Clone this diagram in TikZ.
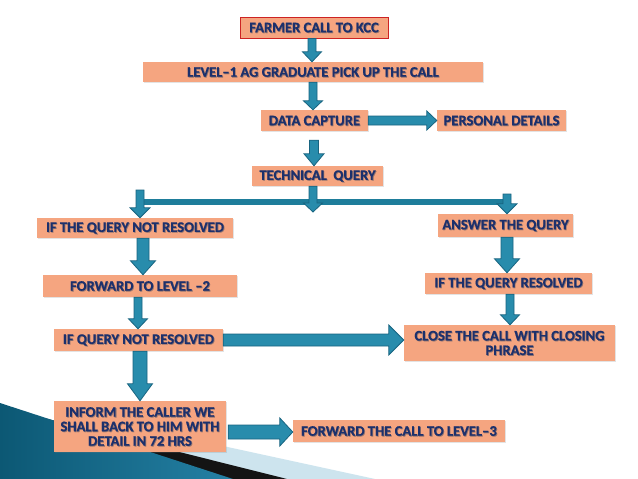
\documentclass[tikz,border=0pt]{standalone}
\usepackage{fontspec}
\setmainfont{Carlito}[BoldFeatures={FakeBold=0.4}]
\usetikzlibrary{calc,shadows}
\definecolor{boxfill}{RGB}{245,165,128}
\definecolor{txt}{RGB}{28,48,108}
\definecolor{tshadow}{RGB}{150,118,112}
\definecolor{arfill}{RGB}{40,140,172}
\definecolor{arline}{RGB}{24,100,128}
\definecolor{hline}{RGB}{30,125,155}
\definecolor{redb}{RGB}{205,35,35}
\definecolor{paleblue}{RGB}{205,228,238}
\definecolor{bgdark}{RGB}{12,88,116}
\definecolor{bgmid}{RGB}{64,166,200}
\definecolor{bgright}{RGB}{36,128,164}
\newcommand{\tsh}[1]{\leavevmode\rlap{\kern0.8pt\raisebox{-0.8pt}[0pt][0pt]{\color{tshadow}#1}}#1}
\begin{document}
\begin{tikzpicture}[x=1pt,y=-1pt,
  box/.style={rectangle, fill=boxfill, inner sep=0pt, align=center,
    font=\fontsize{14.6}{14.5}\selectfont\bfseries, text=txt,
    drop shadow={shadow xshift=1pt,shadow yshift=-1.2pt,opacity=0.22}},
  ar/.style={fill=arfill, draw=arline, line width=0.8pt, line join=miter},
  barrow/.style n args={3}{to path={let \p1=(\tikztostart),\p2=(\tikztotarget),
      \n1={atan2(\y2-\y1,\x2-\x1)} in
      ($(\p1)+(\n1+90:#1)$) -- ($(\p2)+(\n1+180:#3)+(\n1+90:#1)$)
      -- ($(\p2)+(\n1+180:#3)+(\n1+90:#2)$) -- (\p2)
      -- ($(\p2)+(\n1+180:#3)+(\n1-90:#2)$) -- ($(\p2)+(\n1+180:#3)+(\n1-90:#1)$)
      -- ($(\p1)+(\n1-90:#1)$) -- cycle}}
]
\useasboundingbox (0,0) rectangle (638,479);
\fill[white] (0,0) rectangle (638,479);
% background decoration
\fill[paleblue] (140,428) -- (375,479) -- (140,479) -- cycle;
\fill[black!92] (0,407) -- (287,479) -- (0,479) -- cycle;
\shade[left color=bgdark, middle color=bgmid, right color=bgright]
  (0,403) -- (233,479) -- (0,479) -- cycle;

% boxes
\node[box, draw=redb, line width=1pt, minimum width=148pt, minimum height=21pt] (farmer) at (314,27.5) {\tsh{FARMER CALL TO KCC}};
\node[box, minimum width=340pt, minimum height=20pt] (level1) at (313,72) {\tsh{LEVEL–1 AG GRADUATE PICK UP THE CALL}};
\node[box, minimum width=107pt, minimum height=21pt] (data) at (314.5,120.5) {\tsh{DATA CAPTURE}};
\node[box, minimum width=129pt, minimum height=21pt] (personal) at (501.5,120.5) {\tsh{PERSONAL DETAILS}};
\node[box, minimum width=131pt, minimum height=20pt] (tech) at (317.5,176) {\tsh{TECHNICAL~~QUERY}};
\node[box, minimum width=196pt, minimum height=20pt] (notres) at (135,228) {\tsh{IF THE QUERY NOT RESOLVED}};
\node[box, minimum width=194pt, minimum height=22pt] (fwd2) at (140,286) {\tsh{FORWARD TO LEVEL –2}};
\node[box, minimum width=135pt, minimum height=23pt] (answer) at (505.5,225.5) {\tsh{ANSWER THE QUERY}};
\node[box, minimum width=167pt, minimum height=21pt] (resolved) at (508.5,283.5) {\tsh{IF THE QUERY RESOLVED}};
\node[box, minimum width=169pt, minimum height=22pt] (qnot) at (138.5,340) {\tsh{IF QUERY NOT RESOLVED}};
\node[box, minimum width=211pt, minimum height=36pt] (close) at (509.5,343) {\tsh{CLOSE THE CALL WITH CLOSING}\\\tsh{PHRASE}};
\node[box, minimum width=172pt, minimum height=51pt] (inform) at (140,426.5) {\tsh{INFORM THE CALLER WE}\\\tsh{SHALL BACK TO HIM WITH}\\\tsh{DETAIL IN 72 HRS}};
\node[box, minimum width=212pt, minimum height=22pt] (fwd3) at (399,431) {\tsh{FORWARD THE CALL TO LEVEL–3}};

% coordinates
\coordinate (tqend) at (313,212);
\coordinate (hl) at (142,202);
\coordinate (hr) at (505,202);
\coordinate (lt) at (140,190);
\coordinate (rt) at (507,194);

% connectors
\draw[ar] ([xshift=-2pt]farmer.south) to[barrow={4pt}{9.5pt}{10pt}] ([xshift=-1pt]level1.north);
\draw[ar] (level1.south) to[barrow={4pt}{9.5pt}{9pt}] ([xshift=-1.5pt]data.north);
\draw[ar] ([xshift=-0.5pt,yshift=-9pt]data.south) to[barrow={4.5pt}{10pt}{12pt}] ([xshift=-3.5pt]tech.north);
\draw[ar] (data.east) to[barrow={4.5pt}{9.5pt}{10pt}] (personal.west);
\draw[line width=6pt, draw=hline] (hl) -- (hr);
\draw[ar] ([xshift=-4.5pt]tech.south) to[barrow={4pt}{9.5pt}{9pt}] (tqend);
\draw[ar] (lt) to[barrow={4pt}{10pt}{10pt}] (lt |- notres.north);
\draw[ar] (rt) to[barrow={4pt}{10pt}{10pt}] (rt |- answer.north);
\draw[ar] ([xshift=8pt]notres.south) to[barrow={6pt}{12.5pt}{14pt}] ([xshift=3pt]fwd2.north);
\draw[ar] ([xshift=1.5pt]answer.south) to[barrow={6pt}{12.5pt}{14pt}] ([xshift=-1.5pt]resolved.north);
\draw[ar] ([xshift=-2pt]fwd2.south) to[barrow={4pt}{9.5pt}{10pt}] ([xshift=-0.5pt]qnot.north);
\draw[ar] ([xshift=1.5pt]resolved.south) to[barrow={4pt}{9.5pt}{10pt}] ([xshift=0.5pt]close.north);
\draw[ar] (qnot.east) to[barrow={6pt}{15pt}{15pt}] (close.west |- qnot.east);
\draw[ar] ([xshift=1.5pt]qnot.south) to[barrow={7pt}{12.5pt}{17pt}] (inform.north);
\draw[ar] ([xshift=2pt,yshift=-5.5pt]inform.east) to[barrow={7pt}{14pt}{13pt}] ([yshift=-1pt]fwd3.west);
\end{tikzpicture}
\end{document}
